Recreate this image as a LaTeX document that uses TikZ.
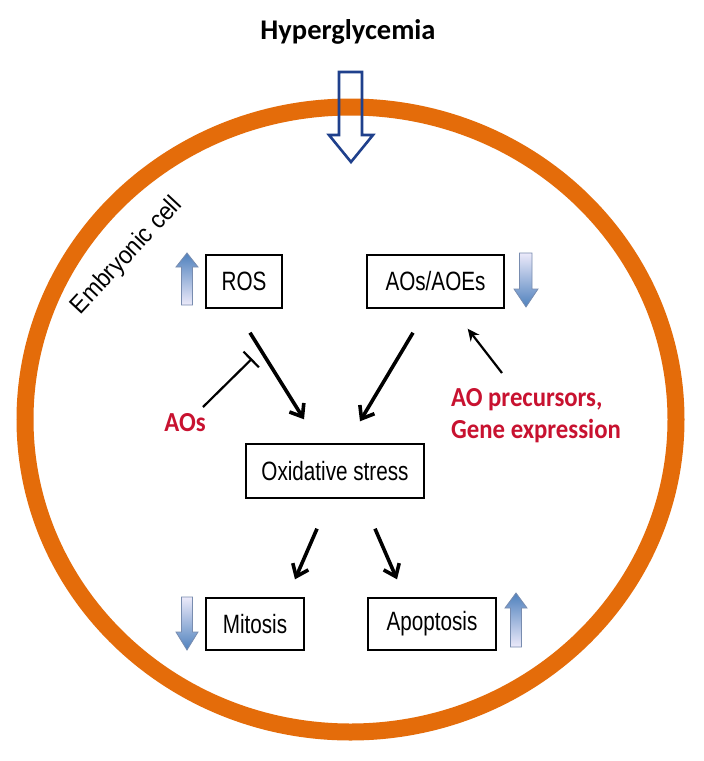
\documentclass[tikz,border=0pt]{standalone}
\usepackage{fontspec}
\usetikzlibrary{arrows.meta,calc}
\newfontfamily\boxfont[FakeStretch=0.78]{Liberation Sans}
\newfontfamily\cellfont[FakeStretch=0.92]{Liberation Sans}
\newfontfamily\calib{Carlito}
\newfontfamily\calibn[FakeStretch=0.9]{Carlito}
\definecolor{ringorange}{RGB}{228,108,10}
\definecolor{hollowblue}{RGB}{31,64,140}
\definecolor{gradblue}{RGB}{79,129,189}
\definecolor{gradlight}{RGB}{236,234,250}
\definecolor{gradedge}{RGB}{120,140,175}
\definecolor{aored}{RGB}{200,18,48}
\begin{document}
\begin{tikzpicture}[x=1pt,y=-1pt,
  stepbox/.style={draw=black, line width=1.4pt, minimum height=53pt, inner sep=0pt, font=\boxfont\fontsize{26.5}{30}\selectfont},
  bigarrow/.style={line width=3.6pt, -{Straight Barb[length=11pt,width=17pt,line width=3.6pt]}},
  redlabel/.style={text=aored, font=\calibn\bfseries\fontsize{27.5}{32}\selectfont, inner sep=0pt},
  gradup/.style={draw=gradedge, line width=0.8pt, top color=gradblue, bottom color=gradlight},
  graddown/.style={draw=gradedge, line width=0.8pt, top color=gradlight, bottom color=gradblue}
]
\useasboundingbox (0,0) rectangle (704,761);
\fill[white] (0,0) rectangle (704,761);

% cell membrane
\draw[ringorange, line width=17pt] (350.5,419.5) ellipse [x radius=325.5, y radius=312.5];
\node[font=\cellfont\fontsize{25}{28}\selectfont, rotate=47, inner sep=0pt] (cell) at (127,256) {Embryonic cell};

% hyperglycemia
\node[font=\calib\bfseries\fontsize{28.5}{32}\selectfont, inner sep=0pt] (hyper) at (348,32) {Hyperglycemia};
\draw[hollowblue, line width=2.6pt, line join=miter]
  (339,72) -- (362,72) -- (362,135) -- (373,135) -- (351,162) -- (329,135) -- (339,135) -- cycle;

% boxes
\node[stepbox, minimum width=76pt] (ros) at (244,281.5) {ROS};
\node[stepbox, minimum width=137pt] (aos) at (435.5,281.5) {AOs/AOEs};
\node[stepbox, minimum width=178pt, minimum height=54pt] (ox) at (335,471) {Oxidative stress};
\node[stepbox, minimum width=98pt, minimum height=52pt] (mit) at (255,624) {Mitosis};
\node[stepbox, minimum width=128pt, minimum height=52pt] (apo) at (432,624) {Apoptosis};

% up/down gradient arrows
\path[gradup] (187,253) -- (198,267) -- (192.5,267) -- (192.5,305) -- (181.5,305) -- (181.5,267) -- (176,267) -- cycle;
\path[graddown] (519.5,253) -- (532,253) -- (532,289) -- (538,289) -- (526,307) -- (514,289) -- (519.5,289) -- cycle;
\path[graddown] (181.5,597) -- (192.5,597) -- (192.5,632) -- (198,632) -- (187,650) -- (176,632) -- (181.5,632) -- cycle;
\path[gradup] (516,593) -- (527,608) -- (521.5,608) -- (521.5,647) -- (510.5,647) -- (510.5,608) -- (505,608) -- cycle;

% red labels
\node[redlabel] (aostext) at (185,423) {AOs};
\node[redlabel, anchor=north west, align=left] (prec) at (451,388) {AO precursors,\\Gene expression};

% connectors
\draw[bigarrow] ($(ros.south)+(6,24)$) -- ($(ox.north)+(-31,-24)$);
\draw[bigarrow] ($(aos.south)+(-22.5,24)$) -- ($(ox.north)+(25,-22)$);
\draw[bigarrow] ($(ox.south)+(-18,30)$) -- ($(mit.north)+(40,-18)$);
\draw[bigarrow] ($(ox.south)+(40,30)$) -- ($(apo.north)+(-35,-18)$);
\draw[line width=2.2pt, -{Bar[width=22pt,line width=2.2pt]}] ($(aostext.center)+(18,-16)$) -- ($(ros.south)+(8,50)$);
\draw[line width=2.2pt, -{Stealth[length=12pt,width=11pt]}] ($(prec.north west)+(51,-15)$) -- ($(aos.south east)+(-37,20)$);
\end{tikzpicture}
\end{document}
